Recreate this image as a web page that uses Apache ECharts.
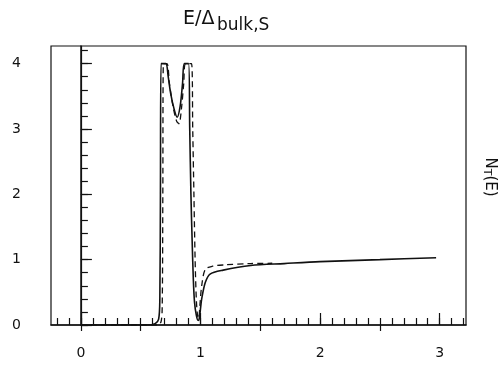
<!DOCTYPE html>
<html>
<head>
<meta charset="utf-8">
<script src="https://cdn.jsdelivr.net/npm/echarts@6/dist/echarts.min.js"></script>
<style>html,body{margin:0;padding:0;background:#fff}#c{width:500px;height:375px}</style>
</head>
<body>
<div id="c"></div>
<script>
// Solid curve (E, N_T)
const solidE = [0.0,0.55,0.62,0.65,0.66,0.665,0.67,0.71,0.73,0.75,0.78,0.805,0.83,0.85,0.865,0.90,0.91,0.92,0.93,0.94,0.95,0.965,0.98,0.99,1.0,1.01,1.04,1.08,1.19,1.42,1.7,2.0,2.5,2.97];
const solidN = [0.0,0.0,0.02,0.09,0.4,2.0,4.0,4.0,3.8,3.55,3.3,3.18,3.35,3.7,4.0,4.0,3.0,2.0,1.3,0.7,0.35,0.15,0.07,0.1,0.25,0.4,0.65,0.78,0.84,0.91,0.94,0.97,1.0,1.03];
// Dashed curve
const dashE = [0.0,0.64,0.67,0.68,0.685,0.69,0.72,0.74,0.77,0.80,0.82,0.84,0.86,0.875,0.925,0.935,0.945,0.955,0.965,0.975,0.985,0.995,1.01,1.04,1.1,1.2,1.42,1.6];
const dashN = [0.0,0.0,0.05,0.3,2.0,4.0,4.0,3.7,3.35,3.12,3.08,3.3,3.7,4.0,4.0,3.0,2.0,1.0,0.4,0.15,0.1,0.3,0.6,0.85,0.9,0.92,0.94,0.945];
// Tick labels
const xTickLabels = [0,1,2,3];
const yTickLabels = [0,1,2,3,4];
const xMajorTicks = [0,1,2,3];
const xCrossTicks = [0,0.5,1.5,2.5];
const yMajorTicks = [0,1,2,3,4];

const xMin = -0.25, xMax = 3.22, yMin = 0, yMax = 4.27;
const xMinor = []; for (let i = -2; i <= 32; i++) xMinor.push(+(i*0.1).toFixed(1));
const yMinor = []; for (let i = 0; i <= 21; i++) yMinor.push(+(i*0.2).toFixed(1));

const solid = solidE.map((e,i)=>[e, solidN[i]]);
const dashed = dashE.map((e,i)=>[e, dashN[i]]);

const font = 'DejaVu Sans';
const ink = '#111';
const chart = echarts.init(document.getElementById('c'), null, {renderer:'canvas'});
const baseX = {type:'value', min:xMin, max:xMax, position:'bottom', splitLine:{show:false}};
const baseY = {type:'value', min:yMin, max:yMax, position:'left', splitLine:{show:false}};
chart.setOption({
  animation:false,
  backgroundColor:'#fff',
  grid:{left:51, right:34, top:46, bottom:50, show:true, borderColor:ink, borderWidth:1.2, backgroundColor:'transparent'},
  xAxis:[
    Object.assign({}, baseX, {
      axisLine:{show:true, lineStyle:{color:ink, width:1.5}},
      axisTick:{show:true, inside:true, length:7, customValues:xMinor, lineStyle:{color:ink, width:1.2}},
      axisLabel:{show:true, customValues:xTickLabels, margin:21, fontFamily:font, fontSize:14, color:ink}
    }),
    Object.assign({}, baseX, {
      axisLine:{show:false},
      axisTick:{show:true, inside:true, length:12, customValues:xMajorTicks, lineStyle:{color:ink, width:1.2}},
      axisLabel:{show:false}
    }),
    Object.assign({}, baseX, {
      axisLine:{show:false},
      axisTick:{show:true, inside:false, length:6, customValues:xCrossTicks, lineStyle:{color:ink, width:1.2}},
      axisLabel:{show:false}
    })
  ],
  yAxis:[
    Object.assign({}, baseY, {
      axisLine:{show:true, lineStyle:{color:ink, width:1.5}},
      axisTick:{show:true, inside:true, length:7, customValues:yMinor, lineStyle:{color:ink, width:1.2}},
      axisLabel:{show:true, customValues:yTickLabels, margin:30, fontFamily:font, fontSize:14, color:ink}
    }),
    Object.assign({}, baseY, {
      axisLine:{show:false},
      axisTick:{show:true, inside:true, length:11, customValues:yMajorTicks, lineStyle:{color:ink, width:1.2}},
      axisLabel:{show:false}
    })
  ],
  series:[
    {type:'line', data:solid, xAxisIndex:0, yAxisIndex:0, showSymbol:false, symbol:'none', smooth:0.3,
     lineStyle:{color:ink, width:1.6}, z:3,
     markLine:{silent:true, symbol:'none', label:{show:false}, lineStyle:{color:ink, width:1.2, type:'solid'}, data:[{xAxis:0}]}},
    {type:'line', data:dashed, xAxisIndex:0, yAxisIndex:0, showSymbol:false, symbol:'none', smooth:0.3,
     lineStyle:{color:ink, width:1.3, type:[6,4]}, z:2}
  ],
  graphic:[
    {type:'text', left:183, top:10, style:{text:'E/Δ', fontFamily:font, fontSize:19, fill:ink}},
    {type:'text', left:217, top:17, style:{text:'bulk,S', fontFamily:font, fontSize:17, fill:ink}},
    {type:'group', x:490, y:177, rotation:-Math.PI/2, children:[
      {type:'text', style:{text:'{n|N}{t|T}{n|(E)}', x:0, y:0, align:'center', verticalAlign:'middle',
        rich:{n:{fontFamily:font, fontSize:15, fill:ink, verticalAlign:'middle'}, t:{fontFamily:font, fontSize:11, fill:ink, padding:[6,0,0,0]}}}}
    ]}
  ]
});
</script>
</body>
</html>
